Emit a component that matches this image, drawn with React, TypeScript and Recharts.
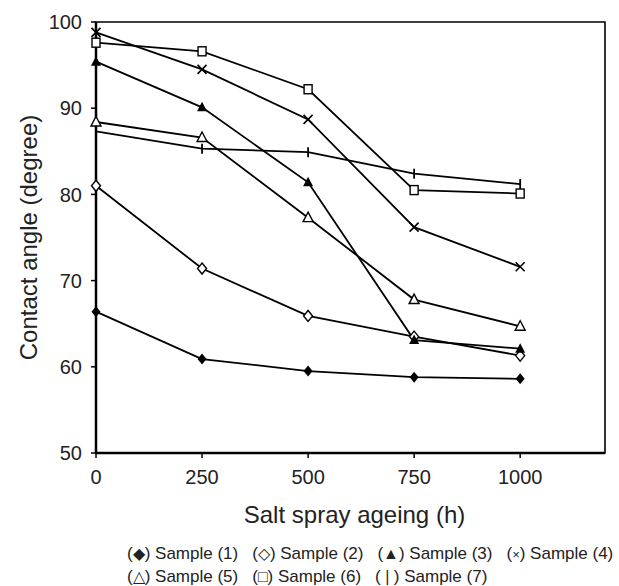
import { LineChart, Line, XAxis, YAxis, ReferenceArea } from "recharts";

const hours = [0, 250, 500, 750, 1000];
const sample1 = [66.4, 60.9, 59.5, 58.8, 58.6];
const sample2 = [81.0, 71.4, 65.9, 63.5, 61.3];
const sample3 = [95.4, 90.1, 81.4, 63.1, 62.1];
const sample4 = [98.8, 94.5, 88.7, 76.2, 71.6];
const sample5 = [88.4, 86.6, 77.3, 67.8, 64.7];
const sample6 = [97.6, 96.6, 92.2, 80.5, 80.1];
const sample7 = [87.3, 85.3, 84.9, 82.4, 81.2];

const xTicks = [0, 250, 500, 750, 1000];
const yTicks = [50, 60, 70, 80, 90, 100];

const seriesNames = [
  "Sample (1)",
  "Sample (2)",
  "Sample (3)",
  "Sample (4)",
  "Sample (5)",
  "Sample (6)",
  "Sample (7)",
];
const legendSymbols = ["◆", "◇", "▲", "×", "△", "□", " | "];
const markerKinds = [
  "diamondFilled",
  "diamondOpen",
  "triangleFilled",
  "cross",
  "triangleOpen",
  "squareOpen",
  "bar",
];

const allSeries = [sample1, sample2, sample3, sample4, sample5, sample6, sample7];

const data = hours.map((h, i) => {
  const row: any = { h };
  allSeries.forEach((s, j) => {
    row["s" + (j + 1)] = s[i];
  });
  return row;
});

const font = "'Liberation Sans', Arial, sans-serif";

const marker = (kind: string) => (props: any) => {
  const { cx, cy, index } = props;
  const key = kind + "-" + index;
  if (cx == null || cy == null) return <g key={key} />;
  switch (kind) {
    case "diamondFilled":
      return (
        <path
          key={key}
          d={`M${cx},${cy - 5.5}L${cx + 4.5},${cy}L${cx},${cy + 5.5}L${cx - 4.5},${cy}Z`}
          fill="#000"
        />
      );
    case "diamondOpen":
      return (
        <path
          key={key}
          d={`M${cx},${cy - 5.5}L${cx + 4.5},${cy}L${cx},${cy + 5.5}L${cx - 4.5},${cy}Z`}
          fill="#fff"
          stroke="#000"
          strokeWidth={1.4}
        />
      );
    case "triangleFilled":
      return (
        <path
          key={key}
          d={`M${cx},${cy - 5.5}L${cx + 5},${cy + 4}L${cx - 5},${cy + 4}Z`}
          fill="#000"
        />
      );
    case "triangleOpen":
      return (
        <path
          key={key}
          d={`M${cx},${cy - 5.5}L${cx + 5},${cy + 4}L${cx - 5},${cy + 4}Z`}
          fill="#fff"
          stroke="#000"
          strokeWidth={1.4}
        />
      );
    case "squareOpen":
      return (
        <rect
          key={key}
          x={cx - 4}
          y={cy - 4.5}
          width={8}
          height={9}
          fill="#fff"
          stroke="#000"
          strokeWidth={1.4}
        />
      );
    case "cross":
      return (
        <path
          key={key}
          d={`M${cx - 4.5},${cy - 4.5}L${cx + 4.5},${cy + 4.5}M${cx + 4.5},${cy - 4.5}L${cx - 4.5},${cy + 4.5}`}
          stroke="#000"
          strokeWidth={1.6}
          fill="none"
        />
      );
    default:
      return (
        <path
          key={key}
          d={`M${cx},${cy - 5}L${cx},${cy + 5}`}
          stroke="#000"
          strokeWidth={1.8}
          fill="none"
        />
      );
  }
};

const LegendBlock = () => {
  const item = (i: number) => (
    <span key={i} style={{ marginRight: 14, whiteSpace: "pre" }}>
      (<span style={{ fontSize: i === 3 ? 13 : 16 }}>{legendSymbols[i]}</span>) {seriesNames[i]}
    </span>
  );
  return (
    <div
      style={{
        position: "absolute",
        left: 127,
        top: 543,
        fontFamily: font,
        fontSize: 17,
        lineHeight: "22px",
        color: "#222",
        whiteSpace: "nowrap",
      }}
    >
      <div>{[0, 1, 2, 3].map(item)}</div>
      <div>{[4, 5, 6].map(item)}</div>
    </div>
  );
};

export default function App() {
  return (
    <div
      style={{
        position: "absolute",
        left: 0,
        top: 0,
        width: 619,
        height: 586,
        background: "#fff",
        overflow: "hidden",
      }}
    >
      <LineChart
        width={619}
        height={586}
        data={data}
        margin={{ top: 22, right: 14, left: 36, bottom: 58 }}
      >
        <ReferenceArea
          x1={0}
          x2={1200}
          y1={50}
          y2={100}
          fill="none"
          stroke="#000"
          strokeWidth={1.6}
        />
        <XAxis
          dataKey="h"
          type="number"
          domain={[0, 1200]}
          ticks={xTicks}
          height={75}
          tickSize={5}
          tickMargin={12}
          axisLine={{ stroke: "#000", strokeWidth: 2.5 }}
          tickLine={{ stroke: "#000", strokeWidth: 1.5 }}
          tick={{ fill: "#222", fontSize: 20, fontFamily: font }}
          label={{
            value: "Salt spray ageing (h)",
            position: "insideBottom",
            offset: 5,
            dx: 4,
            style: { fill: "#222", fontSize: 24, fontFamily: font },
          }}
        />
        <YAxis
          type="number"
          domain={[50, 100]}
          ticks={yTicks}
          width={60}
          tickSize={5}
          tickMargin={9}
          axisLine={{ stroke: "#000", strokeWidth: 2.5 }}
          tickLine={{ stroke: "#000", strokeWidth: 1.5 }}
          tick={{ fill: "#222", fontSize: 20, fontFamily: font }}
          label={{
            value: "Contact angle (degree)",
            angle: -90,
            position: "insideLeft",
            offset: -8,
            style: {
              fill: "#222",
              fontSize: 24,
              fontFamily: font,
              textAnchor: "middle",
            },
          }}
        />
        {allSeries.map((_, j) => (
          <Line
            key={j}
            type="linear"
            dataKey={"s" + (j + 1)}
            name={seriesNames[j]}
            stroke="#000"
            strokeWidth={1.8}
            dot={marker(markerKinds[j])}
            activeDot={false}
            isAnimationActive={false}
          />
        ))}
      </LineChart>
      <LegendBlock />
    </div>
  );
}
